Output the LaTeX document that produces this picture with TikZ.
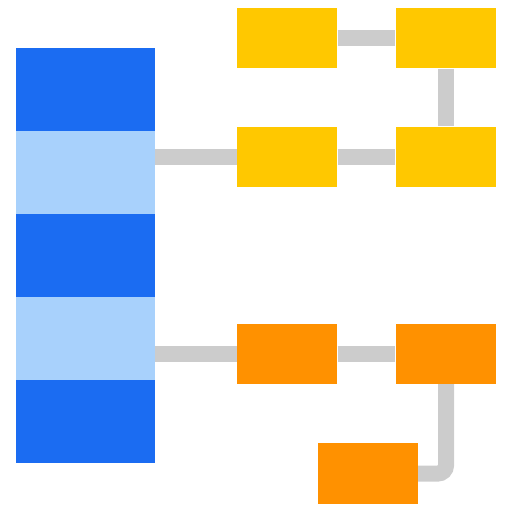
\documentclass[tikz,border=0pt]{standalone}
\usetikzlibrary{backgrounds}
\definecolor{dkblue}{RGB}{27,108,242}
\definecolor{ltblue}{RGB}{168,209,252}
\definecolor{boxyellow}{RGB}{255,200,0}
\definecolor{boxorange}{RGB}{255,145,0}
\definecolor{linkgray}{RGB}{204,204,204}
\begin{document}
\begin{tikzpicture}[x=0.01cm,y=-0.01cm,
  band/.style={inner sep=0,minimum width=1.39cm,minimum height=0.83cm},
  card/.style={inner sep=0,minimum width=1cm,minimum height=0.6cm},
  link/.style={draw=linkgray,line width=0.16cm,rounded corners=0.08cm}]
\useasboundingbox (0,0) rectangle (512,512);
% column of five bands
\foreach \i/\c in {1/dkblue,2/ltblue,3/dkblue,4/ltblue,5/dkblue}
  \node[band,fill=\c] (b\i) at (85.5,{48+83*(\i-0.5)}) {};
% upper group
\node[card,fill=boxyellow] (ya) at (287,38) {};
\node[card,fill=boxyellow] (yb) at (446,38) {};
\node[card,fill=boxyellow] (yc) at (287,157) {};
\node[card,fill=boxyellow] (yd) at (446,157) {};
% lower group
\node[card,fill=boxorange] (oa) at (287,354) {};
\node[card,fill=boxorange] (ob) at (446,354) {};
\node[card,fill=boxorange] (oc) at (368,473.5) {};
\begin{scope}[on background layer]
\draw[link] (yc.center) -- (yc.center -| b2.center);
\draw[link] (ya) -- (yb);
\draw[link] (yb) -- (yd);
\draw[link] (yc) -- (yd);
\draw[link] (oa.center) -- (oa.center -| b4.center);
\draw[link] (oa) -- (ob);
\draw[link] (ob.center) |- (oc.center);
\end{scope}
\end{tikzpicture}
\end{document}
